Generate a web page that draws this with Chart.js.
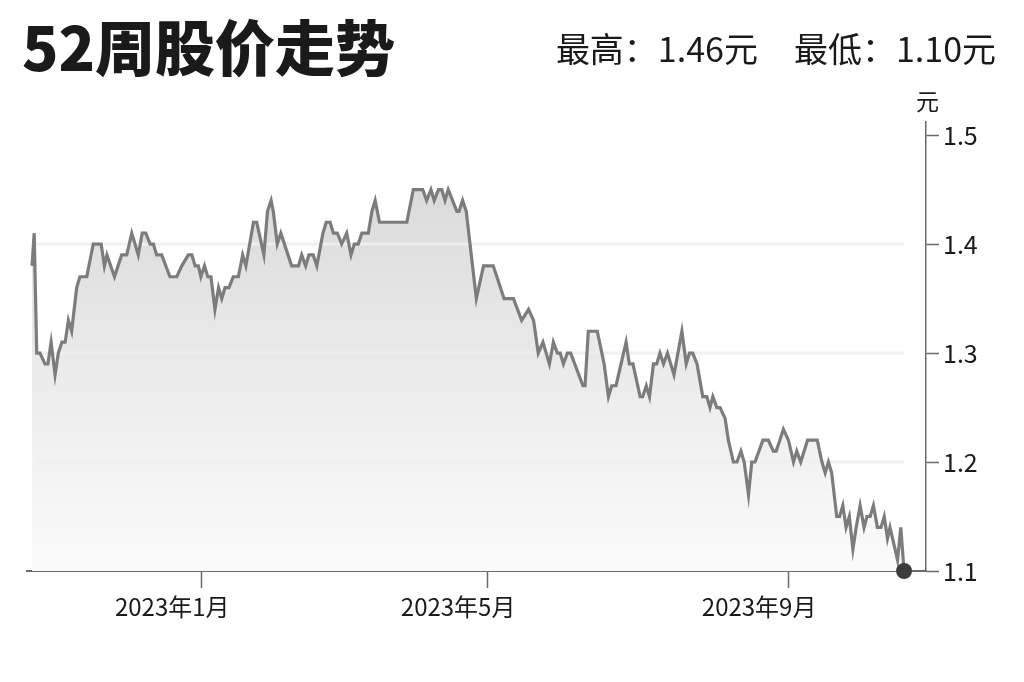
<!DOCTYPE html>
<html>
<head>
<meta charset="utf-8">
<script src="https://cdn.jsdelivr.net/npm/chart.js@4/dist/chart.umd.min.js"></script>
<style>
  html, body { margin: 0; padding: 0; background: #ffffff; }
  #wrap { position: relative; width: 1024px; height: 682px; overflow: hidden; }
  #c { position: absolute; left: 0; top: 0; }
  .txt { position: absolute; font-family: "Noto Sans CJK SC", "Noto Sans", sans-serif; color: #1a1a1a; line-height: 1; white-space: nowrap; }
  #title { left: 22px; top: 15px; font-size: 60px; font-weight: 900; }
  #sub { right: 28px; top: 31px; font-size: 34px; font-weight: 400; }
  #sub span + span { margin-left: 36px; }
  #unit { left: 916px; top: 89px; font-size: 23px; }
</style>
</head>
<body>
<div id="wrap">
  <canvas id="c" width="1024" height="682"></canvas>
  <div class="txt" id="title">52周股价走势</div>
  <div class="txt" id="sub"><span>最高：1.46元</span><span>最低：1.10元</span></div>
  <div class="txt" id="unit">元</div>
</div>
<script>
// Trading-session index (x) and closing price in 元 (y)
const sessions = [
  0, 0.6, 1.3, 2.2, 3.6, 4.4, 5.3, 6.4, 7.3, 8.3, 9.2, 10.1, 11.0, 12.4, 13.3, 15.2, 17.0, 19.2, 20.1, 20.8,
  22.9, 24.9, 26.3, 27.7, 29.5, 30.6, 31.6, 32.8, 33.7, 34.6, 36.0, 38.3, 40.2, 41.6, 43.4, 44.4, 45.3, 46.2, 46.9, 47.9,
  48.8, 49.7, 50.8, 51.8, 52.7, 53.6, 54.7, 55.9, 57.3, 58.5, 59.4, 61.5, 62.4, 64.4, 65.4, 66.4, 67.0, 68.1, 69.1, 72.1,
  74.0, 74.9, 76.0, 76.9, 78.1, 79.1, 80.8, 81.7, 82.8, 83.7, 84.8, 86.0, 87.4, 88.6, 89.5, 90.6, 91.6, 93.4, 94.4, 95.3,
  96.5, 104.1, 105.9, 108.5, 109.6, 110.8, 111.7, 112.9, 113.8, 114.7, 115.6, 118.0, 118.6, 119.6, 120.6, 123.4, 125.4, 128.1, 131.1, 133.7,
  136.0, 137.9, 139.3, 140.6, 141.9, 143.7, 144.8, 145.9, 146.7, 147.6, 148.7, 149.6, 153.0, 153.6, 154.5, 157.0, 158.9, 160.1, 161.0, 162.2,
  165.0, 165.9, 166.9, 168.9, 169.6, 170.6, 171.5, 172.6, 173.5, 174.4, 175.4, 176.5, 178.3, 180.5, 181.7, 182.6, 183.5, 184.7, 186.3, 187.4,
  188.3, 189.1, 190.2, 191.1, 192.5, 193.4, 194.8, 195.8, 196.9, 197.8, 199.0, 199.9, 200.8, 203.0, 204.5, 205.9, 206.7, 208.7, 210.1, 211.5,
  212.4, 213.5, 215.4, 218.1, 219.4, 220.3, 221.2, 222.1, 223.5, 224.3, 225.2, 226.1, 227.0, 228.0, 228.9, 230.0, 231.1, 231.9, 232.8, 233.7,
  234.8, 235.8, 236.7, 237.6, 238.3, 239.7, 240.4, 241.3, 242.2
];
const prices = [
  1.38, 1.41, 1.30, 1.30, 1.29, 1.29, 1.31, 1.28, 1.30, 1.31, 1.31, 1.33, 1.32, 1.36, 1.37, 1.37, 1.40, 1.40, 1.38, 1.39,
  1.37, 1.39, 1.39, 1.41, 1.39, 1.41, 1.41, 1.40, 1.40, 1.39, 1.39, 1.37, 1.37, 1.38, 1.39, 1.39, 1.38, 1.38, 1.37, 1.38,
  1.37, 1.37, 1.34, 1.36, 1.35, 1.36, 1.36, 1.37, 1.37, 1.39, 1.38, 1.42, 1.42, 1.39, 1.43, 1.44, 1.43, 1.40, 1.41, 1.38,
  1.38, 1.39, 1.38, 1.39, 1.39, 1.38, 1.41, 1.42, 1.42, 1.41, 1.41, 1.40, 1.41, 1.39, 1.40, 1.40, 1.41, 1.41, 1.43, 1.44,
  1.42, 1.42, 1.45, 1.45, 1.44, 1.45, 1.44, 1.45, 1.45, 1.44, 1.45, 1.43, 1.43, 1.44, 1.43, 1.35, 1.38, 1.38, 1.35, 1.35,
  1.33, 1.34, 1.33, 1.30, 1.31, 1.29, 1.31, 1.30, 1.30, 1.29, 1.30, 1.30, 1.27, 1.27, 1.32, 1.32, 1.29, 1.26, 1.27, 1.27,
  1.31, 1.29, 1.29, 1.26, 1.26, 1.27, 1.26, 1.29, 1.29, 1.30, 1.29, 1.30, 1.28, 1.32, 1.29, 1.30, 1.30, 1.29, 1.26, 1.26,
  1.25, 1.26, 1.25, 1.25, 1.24, 1.22, 1.20, 1.20, 1.21, 1.20, 1.17, 1.20, 1.20, 1.22, 1.22, 1.21, 1.21, 1.23, 1.22, 1.20,
  1.21, 1.20, 1.22, 1.22, 1.20, 1.19, 1.20, 1.19, 1.15, 1.15, 1.16, 1.14, 1.15, 1.12, 1.14, 1.16, 1.14, 1.15, 1.15, 1.16,
  1.14, 1.14, 1.15, 1.13, 1.14, 1.12, 1.11, 1.14, 1.10
];
const xTickSessions = [47, 126.4, 210];
const xTickLabels = ['2023年1月', '2023年5月', '2023年9月'];
const yTicks = [1.1, 1.2, 1.3, 1.4, 1.5];
const gridValues = [1.2, 1.3, 1.4];

const points = sessions.map((x, i) => ({ x: x, y: prices[i] }));
const lastIndex = points.length - 1;
const FONT = '"Noto Sans CJK SC", "Noto Sans", sans-serif';

const gridPlugin = {
  id: 'softGrid',
  beforeDatasetsDraw(chart) {
    const { ctx, chartArea, scales } = chart;
    const xEnd = scales.x.getPixelForValue(sessions[lastIndex]);
    ctx.save();
    ctx.strokeStyle = 'rgba(238,238,238,0.9)';
    ctx.lineWidth = 3;
    gridValues.forEach(v => {
      const y = scales.y.getPixelForValue(v);
      ctx.beginPath();
      ctx.moveTo(chartArea.left + 8, y);
      ctx.lineTo(xEnd, y);
      ctx.stroke();
    });
    ctx.restore();
  }
};

new Chart(document.getElementById('c'), {
  type: 'line',
  data: {
    datasets: [{
      data: points,
      borderColor: '#7c7c7c',
      borderWidth: 3.2,
      tension: 0,
      clip: false,
      fill: 'start',
      backgroundColor: (c) => {
        const ch = c.chart;
        const area = ch.chartArea;
        if (!area) return 'rgba(220,220,220,0.6)';
        const g = ch.ctx.createLinearGradient(0, area.top, 0, area.bottom);
        g.addColorStop(0, '#d4d4d4');
        g.addColorStop(0.5, '#e9e9e9');
        g.addColorStop(1, '#fbfbfb');
        return g;
      },
      pointRadius: (c) => (c.dataIndex === lastIndex ? 8 : 0),
      pointHoverRadius: (c) => (c.dataIndex === lastIndex ? 8 : 0),
      pointBackgroundColor: '#3c3c3c',
      pointBorderColor: '#3c3c3c',
      pointBorderWidth: 0
    }]
  },
  options: {
    responsive: false,
    animation: false,
    events: [],
    layout: { padding: { left: 27, top: 122, right: 0, bottom: 0 } },
    plugins: {
      legend: { display: false },
      tooltip: { enabled: false },
      filler: { drawTime: 'beforeDatasetsDraw' }
    },
    scales: {
      x: {
        type: 'linear',
        min: -1.4,
        max: 248.3,
        afterBuildTicks: (s) => { s.ticks = xTickSessions.map(v => ({ value: v })); },
        afterFit: (s) => { s.height = 111; },
        border: { display: true, color: '#6a6a6a', width: 2 },
        grid: { drawOnChartArea: false, drawTicks: true, tickLength: 17, tickColor: '#6a6a6a', tickWidth: 1.5 },
        ticks: {
          autoSkip: false,
          maxRotation: 0,
          padding: 4,
          labelOffset: -29,
          color: '#1a1a1a',
          font: { family: FONT, size: 24 },
          callback: (v, i) => xTickLabels[i]
        }
      },
      y: {
        position: 'right',
        min: 1.1,
        max: 1.512,
        afterBuildTicks: (s) => { s.ticks = yTicks.map(v => ({ value: v })); },
        afterFit: (s) => { s.width = 98; },
        border: { display: true, color: '#6a6a6a', width: 1.5 },
        grid: { drawOnChartArea: false, drawTicks: true, tickLength: 13, tickColor: '#6a6a6a', tickWidth: 1.5 },
        ticks: {
          padding: 4,
          color: '#1a1a1a',
          font: { family: FONT, size: 25 },
          callback: (v) => Number(v).toFixed(1)
        }
      }
    }
  },
  plugins: [gridPlugin]
});
</script>
</body>
</html>
